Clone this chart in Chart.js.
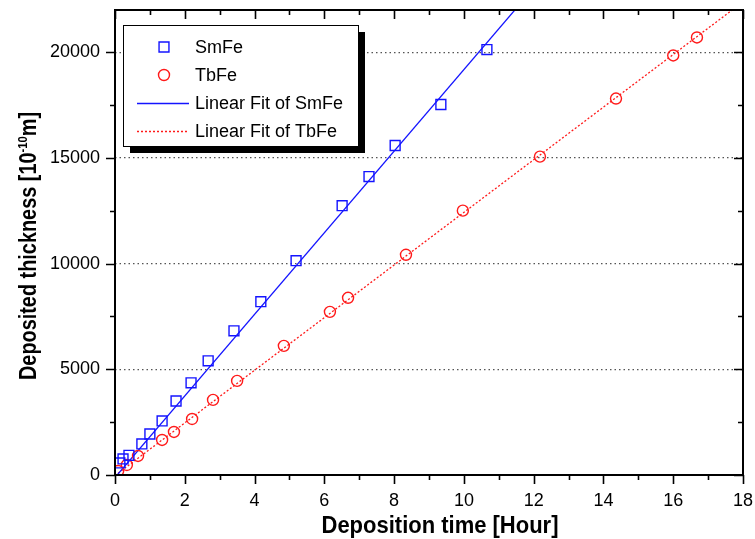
<!DOCTYPE html>
<html>
<head>
<meta charset="utf-8">
<title>Deposited thickness vs. deposition time</title>
<script src="https://cdn.jsdelivr.net/npm/chart.js@4.4.1/dist/chart.umd.min.js"></script>
<style>
  html, body { margin: 0; padding: 0; background: #fff; }
  #wrap { width: 755px; height: 539px; }
</style>
</head>
<body>
<div id="wrap"><canvas id="thick-chart" width="755" height="539"></canvas></div>
<script>
// measured points: deposition time [h] vs. thickness [1e-10 m]
const smfeTime  = [0.14, 0.23, 0.40, 0.77, 1.00, 1.35, 1.75, 2.18, 2.67, 3.41, 4.18, 5.19, 6.51, 7.28, 8.03, 9.34, 10.66];
const smfeThick = [570, 760, 930, 1470, 1940, 2560, 3500, 4360, 5400, 6820, 8200, 10140, 12740, 14120, 15590, 17530, 20130];
const tbfeTime  = [0.09, 0.34, 0.66, 1.35, 1.69, 2.21, 2.81, 3.50, 4.84, 6.16, 6.68, 8.34, 9.97, 12.18, 14.36, 16.00, 16.68];
const tbfeThick = [190, 474, 900, 1658, 2037, 2650, 3553, 4453, 6110, 7720, 8385, 10420, 12506, 15065, 17810, 19850, 20700];

// linear fits [slope, intercept]
const smfeFit = [1930, -120];
const tbfeFit = [1245, -25];
const fitRange = [0, 18];

const xTicks = [0, 2, 4, 6, 8, 10, 12, 14, 16, 18];
const yTicks = [0, 5000, 10000, 15000, 20000];

const X_MAX = 18, Y_MAX = 22000;
const BLUE = '#1414ff';
const RED = '#ff1a1a';
const FONT = '"Liberation Sans", Arial, sans-serif';

const pts = (xs, ys) => xs.map((x, i) => ({ x, y: ys[i] }));
const fitLine = ([m, b]) => fitRange.map(x => ({ x, y: m * x + b }));

// frame box with ticks: outward on bottom/left, inward on top/right
const framePlugin = {
  id: 'frame',
  afterDraw(chart) {
    const { ctx, chartArea: a, scales: { x, y } } = chart;
    ctx.save();
    ctx.strokeStyle = '#000';
    ctx.lineWidth = 2;
    ctx.strokeRect(a.left, a.top, a.right - a.left, a.bottom - a.top);
    ctx.lineWidth = 1.6;
    ctx.beginPath();
    for (let v = 0; v <= X_MAX; v += 1) {
      const px = Math.round(x.getPixelForValue(v)) + 0.5;
      const len = v % 2 === 0 ? 9 : 5;
      ctx.moveTo(px, a.bottom); ctx.lineTo(px, a.bottom + len);
      ctx.moveTo(px, a.top); ctx.lineTo(px, a.top + len);
    }
    for (let v = 0; v <= 20000; v += 2500) {
      const py = Math.round(y.getPixelForValue(v)) + 0.5;
      const len = v % 5000 === 0 ? 9 : 5;
      ctx.moveTo(a.left, py); ctx.lineTo(a.left - len, py);
      ctx.moveTo(a.right, py); ctx.lineTo(a.right - len, py);
    }
    ctx.stroke();
    ctx.restore();
  }
};

// draws text pieces squeezed to a given width (narrow bold look)
function drawSqueezed(ctx, parts, width) {
  let total = 0;
  parts.forEach(p => { ctx.font = p.f; p.w = ctx.measureText(p.t).width; total += p.w; });
  const k = width / total;
  ctx.scale(k, 1);
  let cx = -total / 2;
  parts.forEach(p => { ctx.font = p.f; ctx.fillText(p.t, cx, p.dy); cx += p.w; });
}

// axis titles; the y title carries a superscript exponent
const titlePlugin = {
  id: 'axisTitles',
  afterDraw(chart) {
    const { ctx } = chart;
    const big = `bold 23px ${FONT}`;
    ctx.save();
    ctx.fillStyle = '#000';
    ctx.textBaseline = 'alphabetic';
    ctx.textAlign = 'left';

    ctx.save();
    ctx.translate(440, 533);
    drawSqueezed(ctx, [{ t: 'Deposition time [Hour]', f: big, dy: 0 }], 237);
    ctx.restore();

    ctx.save();
    ctx.translate(36, 246);
    ctx.rotate(-Math.PI / 2);
    drawSqueezed(ctx, [
      { t: 'Deposited thickness [10', f: big, dy: 0 },
      { t: '-10', f: `bold 13px ${FONT}`, dy: -9 },
      { t: 'm]', f: big, dy: 0 }
    ], 268);
    ctx.restore();
    ctx.restore();
  }
};

// boxed legend with a drop shadow, top-left inside the plot
const legendPlugin = {
  id: 'boxLegend',
  afterDraw(chart) {
    const { ctx } = chart;
    const bx = 123, by = 25, bw = 235, bh = 121, sh = 7;
    ctx.save();
    ctx.fillStyle = '#000';
    ctx.fillRect(bx + sh, by + sh, bw, bh);
    ctx.fillStyle = '#fff';
    ctx.fillRect(bx, by, bw, bh);
    ctx.strokeStyle = '#000';
    ctx.lineWidth = 1;
    ctx.strokeRect(bx + 0.5, by + 0.5, bw, bh);

    const rows = [47, 75, 103, 131];
    ctx.font = `18px ${FONT}`;
    ctx.textBaseline = 'middle';
    ctx.textAlign = 'left';
    chart.data.datasets.forEach((ds, i) => {
      const ry = rows[i];
      ctx.strokeStyle = ds.borderColor;
      ctx.lineWidth = ds.borderWidth;
      ctx.beginPath();
      if (ds.showLine === false) {
        if (ds.pointStyle === 'rect') {
          const s = ds.pointRadius * Math.SQRT1_2;
          ctx.rect(164 - s, ry - s, 2 * s, 2 * s);
        } else {
          ctx.arc(164, ry, ds.pointRadius, 0, Math.PI * 2);
        }
        ctx.stroke();
      } else {
        ctx.setLineDash(ds.borderDash || []);
        ctx.moveTo(137, ry + 0.5);
        ctx.lineTo(189, ry + 0.5);
        ctx.stroke();
        ctx.setLineDash([]);
      }
      ctx.fillStyle = '#000';
      ctx.fillText(ds.label, 195, ry + 1);
    });
    ctx.restore();
  }
};

const ctx = document.getElementById('thick-chart').getContext('2d');
new Chart(ctx, {
  type: 'scatter',
  data: {
    datasets: [
      {
        label: 'SmFe',
        data: pts(smfeTime, smfeThick),
        showLine: false,
        pointStyle: 'rect',
        pointRadius: 7,
        borderColor: BLUE,
        backgroundColor: 'rgba(0,0,0,0)',
        borderWidth: 1.4,
        order: 1
      },
      {
        label: 'TbFe',
        data: pts(tbfeTime, tbfeThick),
        showLine: false,
        pointStyle: 'circle',
        pointRadius: 5.5,
        borderColor: RED,
        backgroundColor: 'rgba(0,0,0,0)',
        borderWidth: 1.4,
        order: 2
      },
      {
        label: 'Linear Fit of SmFe',
        data: fitLine(smfeFit),
        showLine: true,
        pointRadius: 0,
        borderColor: BLUE,
        borderWidth: 1.3,
        order: 3
      },
      {
        label: 'Linear Fit of TbFe',
        data: fitLine(tbfeFit),
        showLine: true,
        pointRadius: 0,
        borderColor: RED,
        borderWidth: 1.3,
        borderDash: [2, 2],
        order: 4
      }
    ]
  },
  options: {
    responsive: false,
    animation: false,
    layout: { padding: { top: 10, right: 12, left: 0, bottom: 0 } },
    plugins: {
      legend: { display: false },
      tooltip: { enabled: false },
      title: { display: false }
    },
    scales: {
      x: {
        type: 'linear',
        min: 0,
        max: X_MAX,
        afterBuildTicks: s => { s.ticks = xTicks.map(value => ({ value })); },
        afterFit: s => { s.height = 64; s.paddingLeft = 0; s.paddingRight = 0; },
        grid: { display: false, drawTicks: false },
        border: { display: false },
        ticks: {
          padding: 15,
          color: '#000',
          font: { family: FONT, size: 18 },
          callback: v => String(v)
        }
      },
      y: {
        type: 'linear',
        min: 0,
        max: Y_MAX,
        afterBuildTicks: s => { s.ticks = yTicks.map(value => ({ value })); },
        afterFit: s => { s.width = 115; s.paddingTop = 0; s.paddingBottom = 0; },
        grid: {
          drawTicks: false,
          lineWidth: 1.3,
          color: c => (c.tick && c.tick.value === 0 ? 'rgba(0,0,0,0)' : '#555')
        },
        border: { display: false, dash: [1.5, 3] },
        ticks: {
          padding: 15,
          color: '#000',
          font: { family: FONT, size: 18 },
          callback: v => String(v)
        }
      }
    }
  },
  plugins: [framePlugin, titlePlugin, legendPlugin]
});
</script>
</body>
</html>
